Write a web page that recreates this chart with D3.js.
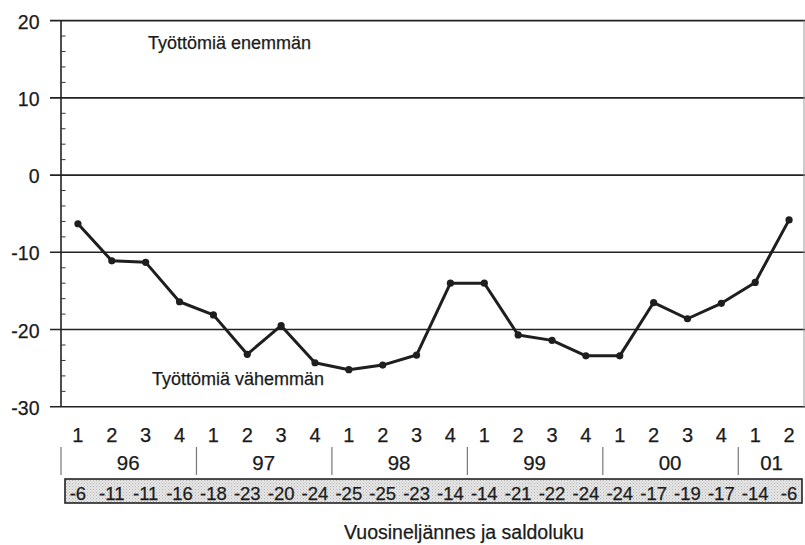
<!DOCTYPE html>
<html>
<head>
<meta charset="utf-8">
<script src="https://cdn.jsdelivr.net/npm/d3@7"></script>
<style>
  html, body { margin: 0; padding: 0; background: #fff; }
  svg { display: block; }
  text { fill: #1b1b1b; stroke: #1b1b1b; stroke-width: 0.25px; font-family: "Liberation Sans", Arial, sans-serif; }
  .narrow { font-family: "Liberation Sans Narrow", "Arial Narrow", "Liberation Sans", sans-serif; }
</style>
</head>
<body>
<svg id="chart" width="805" height="545"></svg>
<script>
// ---- data ----
const quarterLabels = ["1","2","3","4","1","2","3","4","1","2","3","4","1","2","3","4","1","2","3","4","1","2"];
const quarterYears  = ["96","96","96","96","97","97","97","97","98","98","98","98","99","99","99","99","00","00","00","00","01","01"];
const yearLabels    = ["96","97","98","99","00","01"];
const values        = [-6.3,-11.1,-11.3,-16.4,-18.1,-23.2,-19.5,-24.3,-25.2,-24.6,-23.3,-14.0,-14.0,-20.7,-21.4,-23.4,-23.4,-16.5,-18.6,-16.6,-13.9,-5.8];
const balanceLabels = ["-6","-11","-11","-16","-18","-23","-20","-24","-25","-25","-23","-14","-14","-21","-22","-24","-24","-17","-19","-17","-14","-6"];
const yTicks        = [20,10,0,-10,-20,-30];
const yMinorTicks   = [18,16,14,12,8,6,4,2,-2,-4,-6,-8,-12,-14,-16,-18,-22,-24,-26,-28];
const topNote       = "Työttömiä enemmän";
const bottomNote    = "Työttömiä vähemmän";
const xTitle        = "Vuosineljännes ja saldoluku";

// ---- scales ----
const svg = d3.select("#chart");
const idx = d3.range(quarterLabels.length);
const x = d3.scaleBand().domain(idx).range([61, 806]).paddingInner(0).paddingOuter(0);
const xc = i => x(i) + x.bandwidth() / 2;
const y = d3.scaleLinear().domain([-30, 20]).range([406.8, 20.6]);
const axisX = 61, plotRight = 805;

// gridlines (with left tick stubs)
svg.append("g").selectAll("line").data(yTicks).join("line")
  .attr("x1", 50).attr("x2", plotRight)
  .attr("y1", d => y(d)).attr("y2", d => y(d))
  .attr("stroke", "#222").attr("stroke-width", 1.6);

// y axis
svg.append("line").attr("x1", axisX).attr("x2", axisX)
  .attr("y1", y(20)).attr("y2", y(-30))
  .attr("stroke", "#222").attr("stroke-width", 1.6);
// right border
svg.append("line").attr("x1", 804).attr("x2", 804)
  .attr("y1", y(20)).attr("y2", y(-30))
  .attr("stroke", "#999").attr("stroke-width", 1);

// minor ticks
svg.append("g").selectAll("line").data(yMinorTicks).join("line")
  .attr("x1", axisX).attr("x2", axisX + 4.5)
  .attr("y1", d => y(d)).attr("y2", d => y(d))
  .attr("stroke", "#333").attr("stroke-width", 1);

// y labels
svg.append("g").selectAll("text").data(yTicks).join("text")
  .attr("x", 39.5).attr("y", d => y(d) + 8)
  .attr("text-anchor", "end").attr("font-size", 19.5)
  .text(d => d);

// notes
svg.append("text").attr("x", 148).attr("y", 48.5).attr("font-size", 18).text(topNote);
svg.append("text").attr("x", 152).attr("y", 384.5).attr("font-size", 18).text(bottomNote);

// line
svg.append("path").datum(values)
  .attr("d", d3.line().x((d, i) => xc(i)).y(d => y(d)))
  .attr("fill", "none").attr("stroke", "#1e1e1e").attr("stroke-width", 3)
  .attr("stroke-linejoin", "round");
svg.append("g").selectAll("circle").data(values).join("circle")
  .attr("cx", (d, i) => xc(i)).attr("cy", d => y(d)).attr("r", 3.6)
  .attr("fill", "#1e1e1e");

// quarter labels
svg.append("g").selectAll("text").data(quarterLabels).join("text")
  .attr("x", (d, i) => xc(i)).attr("y", 442)
  .attr("text-anchor", "middle").attr("font-size", 20)
  .text(d => d);

// year groups
const yearGroups = yearLabels.map(yl => {
  const ids = idx.filter(i => quarterYears[i] === yl);
  return { label: yl, start: x(ids[0]), end: x(ids[ids.length - 1]) + x.bandwidth() };
});
svg.append("g").selectAll("line").data(yearGroups).join("line")
  .attr("x1", d => d.start).attr("x2", d => d.start)
  .attr("y1", 447).attr("y2", 475)
  .attr("stroke", "#777").attr("stroke-width", 1.2);
svg.append("g").selectAll("text").data(yearGroups).join("text")
  .attr("x", d => (d.start + d.end) / 2 - 0.5).attr("y", 470)
  .attr("text-anchor", "middle").attr("font-size", 20.5)
  .text(d => d.label);

// balance table
const defs = svg.append("defs");
const pat = defs.append("pattern").attr("id", "dots").attr("width", 3).attr("height", 3)
  .attr("patternUnits", "userSpaceOnUse");
pat.append("rect").attr("width", 3).attr("height", 3).attr("fill", "#e6e6e6");
pat.append("rect").attr("width", 1).attr("height", 1).attr("fill", "#b5b5b5");
pat.append("rect").attr("x", 1.5).attr("y", 1.5).attr("width", 1).attr("height", 1).attr("fill", "#c4c4c4");
svg.append("rect").attr("x", 65).attr("y", 479).attr("width", 737).attr("height", 24)
  .attr("fill", "url(#dots)").attr("stroke", "#222").attr("stroke-width", 1.6);
svg.append("g").selectAll("text").data(balanceLabels).join("text")
  .attr("class", "narrow")
  .attr("x", (d, i) => xc(i)).attr("y", 499.5)
  .attr("text-anchor", "middle").attr("font-size", 18.5)
  .text(d => d);

// x title
svg.append("text").attr("x", 464).attr("y", 539).attr("text-anchor", "middle")
  .attr("font-size", 19.5).text(xTitle);
</script>
</body>
</html>
